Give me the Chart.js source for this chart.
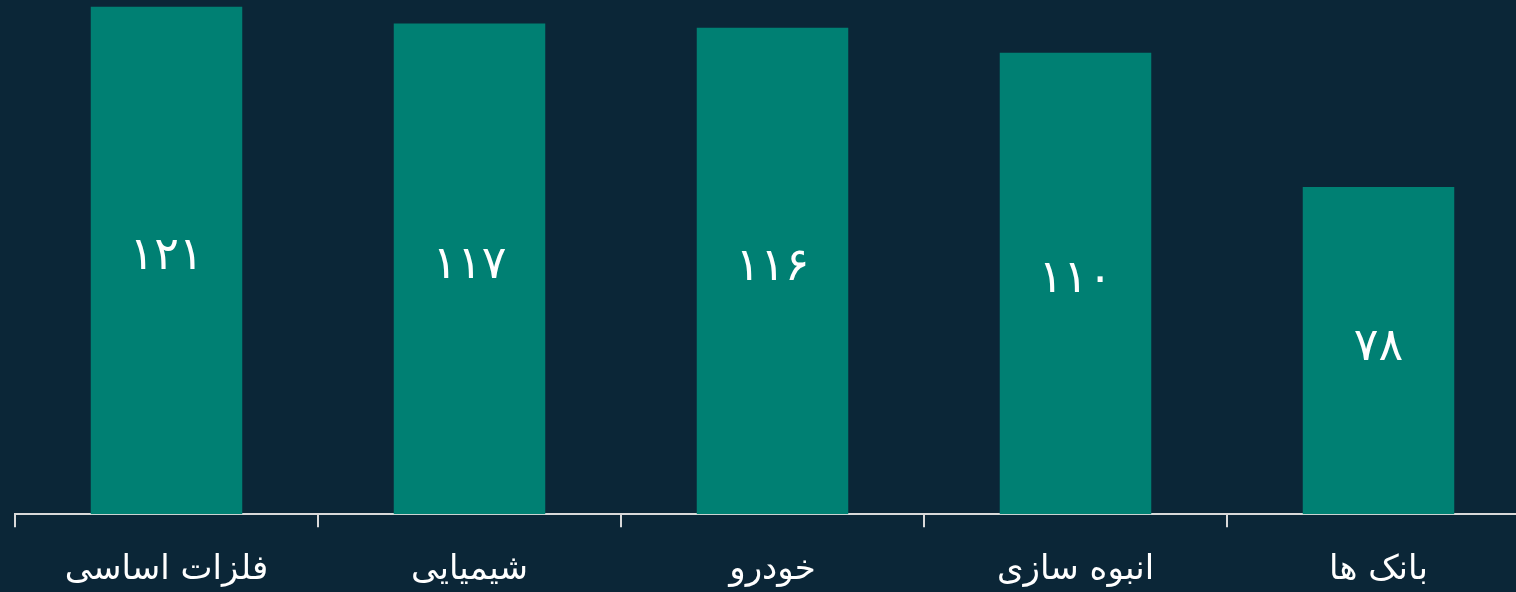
<!DOCTYPE html>
<html lang="fa">
<head>
<meta charset="utf-8">
<script src="https://cdn.jsdelivr.net/npm/chart.js@4/dist/chart.umd.min.js"></script>
<style>
  html, body { margin: 0; padding: 0; background: #0b2637; overflow: hidden; }
  #wrap { width: 1530px; height: 614px; position: relative; }
</style>
</head>
<body>
<div id="wrap"><canvas id="chart"></canvas></div>
<script>
// sectors, left to right as drawn
const categories = ['فلزات اساسی', 'شیمیایی', 'خودرو', 'انبوه سازی', 'بانک ها'];
const values = [121, 117, 116, 110, 78];
const valueLabels = ['۱۲۱', '۱۱۷', '۱۱۶', '۱۱۰', '۷۸'];

const FONT = "'DejaVu Sans', 'Noto Sans', sans-serif";

// draws the value in the middle of each bar
const centerLabels = {
  id: 'centerLabels',
  afterDatasetsDraw(chart) {
    const ctx = chart.ctx;
    const meta = chart.getDatasetMeta(0);
    ctx.save();
    ctx.fillStyle = '#ffffff';
    ctx.font = '46px ' + FONT;
    ctx.textAlign = 'center';
    ctx.textBaseline = 'middle';
    meta.data.forEach((bar, i) => {
      const y = (bar.y + bar.base) / 2 - 3;
      ctx.fillText(valueLabels[i], bar.x, y);
    });
    ctx.restore();
  }
};

new Chart(document.getElementById('chart').getContext('2d'), {
  type: 'bar',
  data: {
    labels: categories,
    datasets: [{
      data: values,
      backgroundColor: '#008073',
      borderWidth: 0,
      categoryPercentage: 1,
      barPercentage: 0.5
    }]
  },
  options: {
    responsive: true,
    maintainAspectRatio: false,
    animation: false,
    layout: { padding: { left: 15, right: 0, top: 0, bottom: 0 } },
    plugins: { legend: { display: false }, tooltip: { enabled: false } },
    scales: {
      x: {
        grid: {
          drawOnChartArea: false,
          color: '#d9d9d9',
          tickLength: 13,
          lineWidth: 2
        },
        border: { color: '#d9d9d9', width: 2 },
        ticks: {
          color: '#ffffff',
          font: { family: FONT, size: 34 },
          padding: 23,
          maxRotation: 0
        }
      },
      y: {
        display: false,
        min: 0,
        max: 122.6
      }
    }
  },
  plugins: [centerLabels]
});
</script>
</body>
</html>
